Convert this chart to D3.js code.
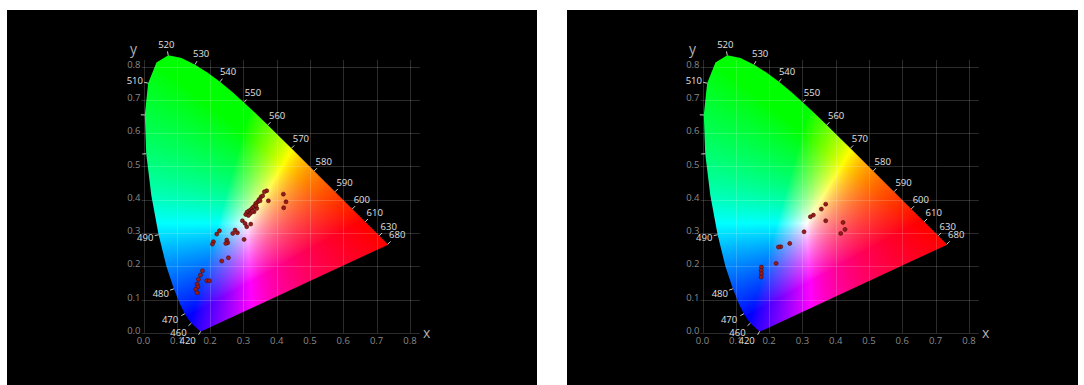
<!DOCTYPE html>
<html><head><meta charset="utf-8">
<script src="https://cdn.jsdelivr.net/npm/d3@7"></script>
<style>html,body{margin:0;padding:0;background:#fff;} svg{display:block;}</style>
</head><body>
<svg id="chart" width="1084" height="385"></svg>
<script>
// CIE 1931 2° spectral locus (standard table, 5 nm steps)
const locusNm = [380,385,390,395,400,405,410,415,420,425,430,435,440,445,450,455,460,465,470,475,480,485,490,495,500,505,510,515,520,525,530,535,540,545,550,555,560,565,570,575,580,585,590,595,600,605,610,615,620,625,630,635,640,645,650,655,660,665,670,675,680,685,690,695,700];
const locusX = [0.1741,0.1740,0.1738,0.1736,0.1733,0.1730,0.1726,0.1721,0.1714,0.1703,0.1689,0.1669,0.1644,0.1611,0.1566,0.1510,0.1440,0.1355,0.1241,0.1096,0.0913,0.0687,0.0454,0.0235,0.0082,0.0039,0.0139,0.0389,0.0743,0.1142,0.1547,0.1929,0.2296,0.2658,0.3016,0.3373,0.3731,0.4087,0.4441,0.4788,0.5125,0.5448,0.5752,0.6029,0.6270,0.6482,0.6658,0.6801,0.6915,0.7006,0.7079,0.7140,0.7190,0.7230,0.7260,0.7283,0.7300,0.7311,0.7320,0.7327,0.7334,0.7340,0.7344,0.7346,0.7347];
const locusY = [0.0050,0.0050,0.0049,0.0049,0.0048,0.0048,0.0048,0.0048,0.0051,0.0058,0.0069,0.0086,0.0109,0.0138,0.0177,0.0227,0.0297,0.0399,0.0578,0.0868,0.1327,0.2007,0.2950,0.4127,0.5384,0.6548,0.7502,0.8120,0.8338,0.8262,0.8059,0.7816,0.7543,0.7243,0.6923,0.6589,0.6245,0.5896,0.5547,0.5202,0.4866,0.4544,0.4242,0.3965,0.3725,0.3514,0.3340,0.3197,0.3083,0.2993,0.2920,0.2859,0.2809,0.2770,0.2740,0.2717,0.2700,0.2689,0.2680,0.2673,0.2666,0.2660,0.2656,0.2654,0.2653];

const labelNm = [420,460,470,480,490,510,520,530,540,550,560,570,580,590,600,610,630,680];
const tickOnlyNm = [500,505];

const axisTicks = [0,0.1,0.2,0.3,0.4,0.5,0.6,0.7,0.8];
const tickLabels = ["0.0","0.1","0.2","0.3","0.4","0.5","0.6","0.7","0.8"];

// measured chromaticity points, left panel
const leftX = [0.370,0.363,0.375,0.420,0.428,0.421,0.353,0.347,0.343,0.337,0.333,0.328,0.323,0.317,0.311,0.307,0.321,0.332,0.340,0.297,0.305,0.322,0.310,0.275,0.282,0.268,0.228,0.220,0.210,0.207,0.250,0.253,0.247,0.302,0.235,0.255,0.177,0.171,0.165,0.161,0.163,0.157,0.161,0.190,0.198,0.315,0.327,0.338,0.350,0.358];
const leftY = [0.427,0.424,0.397,0.417,0.394,0.376,0.409,0.401,0.394,0.389,0.381,0.377,0.371,0.367,0.363,0.356,0.359,0.364,0.374,0.337,0.329,0.327,0.319,0.309,0.301,0.299,0.307,0.297,0.274,0.267,0.279,0.271,0.269,0.281,0.216,0.226,0.187,0.174,0.161,0.147,0.139,0.131,0.121,0.157,0.157,0.353,0.366,0.382,0.397,0.412];
// right panel
const rightX = [0.370,0.357,0.333,0.324,0.370,0.422,0.428,0.415,0.305,0.262,0.235,0.228,0.221,0.177,0.176,0.177,0.176];
const rightY = [0.387,0.372,0.354,0.349,0.337,0.332,0.311,0.299,0.304,0.269,0.259,0.258,0.209,0.198,0.188,0.178,0.168];

const panels = [
  {bx:7,  bw:530, offset:0,   px:leftX,  py:leftY},
  {bx:567,bw:511, offset:559, px:rightX, py:rightY}
];

const svg = d3.select("#chart");
svg.append("rect").attr("width",1084).attr("height",385).attr("fill","#fff");

const x = d3.scaleLinear().domain([0,0.8]).range([143.5,143.5+0.8*333]);
const y = d3.scaleLinear().domain([0,0.8]).range([333,333-0.8*333]);

const locus = locusNm.map((w,i)=>({w, x:locusX[i], y:locusY[i]}));
const locusPath = d3.line().x(d=>x(d.x)).y(d=>y(d.y))(locus) + "Z";

// chromaticity fill rendered to a canvas
function xyToRGB(cx, cy){
  cy = Math.max(cy, 1e-4);
  const X = cx/cy, Y = 1, Z = (1-cx-cy)/cy;
  let r =  3.2406*X - 1.5372*Y - 0.4986*Z;
  let g = -0.9689*X + 1.8758*Y + 0.0415*Z;
  let b =  0.0557*X - 0.2040*Y + 1.0570*Z;
  r = Math.max(r,0); g = Math.max(g,0); b = Math.max(b,0);
  const m = Math.max(r,g,b) || 1;
  r/=m; g/=m; b/=m;
  const gam = v => Math.pow(v, 1/1.25);
  return [gam(r)*255, gam(g)*255, gam(b)*255];
}
const ix0 = Math.floor(x(0))-2, iy0 = Math.floor(y(0.85))-2;
const iw = Math.ceil(x(0.75))-ix0+3, ih = Math.ceil(y(0))-iy0+3;
const cv = document.createElement("canvas");
cv.width = iw; cv.height = ih;
const ctx = cv.getContext("2d");
const img = ctx.createImageData(iw, ih);
for (let j=0;j<ih;j++){
  for (let i=0;i<iw;i++){
    const cx = x.invert(ix0+i+0.5), cy = y.invert(iy0+j+0.5);
    const c = xyToRGB(Math.max(cx,0), Math.max(cy,0.001));
    const k = (j*iw+i)*4;
    img.data[k]=c[0]; img.data[k+1]=c[1]; img.data[k+2]=c[2]; img.data[k+3]=255;
  }
}
ctx.putImageData(img,0,0);
const dataURL = cv.toDataURL();

const defs = svg.append("defs");
defs.append("clipPath").attr("id","locusClip").attr("clipPathUnits","userSpaceOnUse")
  .append("path").attr("d", locusPath);

// outward normal helper
const cxs = x(0.33), cys = y(0.33);
function normalAt(w){
  const i = locusNm.indexOf(w);
  const a = locus[Math.max(0,i-1)], b = locus[Math.min(locus.length-1,i+1)];
  let tx = x(b.x)-x(a.x), ty = y(b.y)-y(a.y);
  const L = Math.hypot(tx,ty) || 1; tx/=L; ty/=L;
  let nx = ty, ny = -tx;
  const p = locus[i];
  if (nx*(x(p.x)-cxs) + ny*(y(p.y)-cys) < 0){ nx=-nx; ny=-ny; }
  return [nx,ny];
}

const font = "'Open Sans', 'DejaVu Sans', sans-serif";

panels.forEach(P => {
  svg.append("rect").attr("x",P.bx).attr("y",10).attr("width",P.bw).attr("height",375).attr("fill","#000");
  const g = svg.append("g").attr("transform",`translate(${P.offset},0)`);

  g.append("image").attr("href", dataURL)
    .attr("x",ix0).attr("y",iy0).attr("width",iw).attr("height",ih)
    .attr("clip-path","url(#locusClip)");

  // grid
  const grid = g.append("g").attr("stroke","#fff").attr("stroke-opacity",0.17).attr("stroke-width",1);
  grid.selectAll("line.v").data(axisTicks).join("line")
    .attr("x1",d=>Math.round(x(d))+0.5).attr("x2",d=>Math.round(x(d))+0.5)
    .attr("y1",y(0)).attr("y2",y(0.82));
  grid.selectAll("line.h").data(axisTicks).join("line")
    .attr("y1",d=>Math.round(y(d))+0.5).attr("y2",d=>Math.round(y(d))+0.5)
    .attr("x1",x(0)-2).attr("x2",x(0.83));

  // tick labels
  g.selectAll("text.xt").data(axisTicks).join("text")
    .attr("x",d=>x(d)).attr("y",y(0)+11)
    .attr("text-anchor","middle").attr("fill","#8a8a8a")
    .attr("font-family",font).attr("font-size",9.5).text((d,i)=>tickLabels[i]);
  g.selectAll("text.yt").data(axisTicks).join("text")
    .attr("x",x(0)-3).attr("y",d=>y(d)+1)
    .attr("text-anchor","end").attr("fill","#8a8a8a")
    .attr("font-family",font).attr("font-size",9.5).text((d,i)=>tickLabels[i]);

  // axis titles
  g.append("text").attr("x",x(0.85)).attr("y",y(0)+5).attr("text-anchor","middle")
    .attr("fill","#b0b0b0").attr("font-family",font).attr("font-size",14).text("x");
  g.append("text").attr("x",x(0)-10).attr("y",y(0.84)+1).attr("text-anchor","middle")
    .attr("fill","#b0b0b0").attr("font-family",font).attr("font-size",14).text("y");

  // wavelength ticks and labels
  const tk = g.append("g").attr("stroke","#cfcfcf").attr("stroke-width",1);
  labelNm.concat(tickOnlyNm).forEach(w => {
    const i = locusNm.indexOf(w), p = locus[i];
    const [nx,ny] = normalAt(w);
    const px = x(p.x), py = y(p.y);
    tk.append("line").attr("x1",px).attr("y1",py).attr("x2",px+nx*4).attr("y2",py+ny*4);
  });
  labelNm.forEach(w => {
    const i = locusNm.indexOf(w), p = locus[i];
    let [nx,ny] = normalAt(w);
    if (w <= 470) { const a = Math.atan2(ny,nx) + (w===420 ? 0.45 : 0.12); nx = Math.cos(a); ny = Math.sin(a); }
    const d = (w <= 470 ? 7 : 5) + Math.abs(nx)*8 + Math.abs(ny)*4;
    g.append("text").attr("x",x(p.x)+nx*d).attr("y",y(p.y)+ny*d)
      .attr("dy","0.35em").attr("text-anchor","middle")
      .attr("fill","#e0e0e0").attr("font-family",font).attr("font-size",9.5).text(w);
  });

  // data points
  g.selectAll("circle.pt").data(P.px.map((v,i)=>[v,P.py[i]])).join("circle")
    .attr("cx",d=>x(d[0])).attr("cy",d=>y(d[1])).attr("r",2)
    .attr("fill","#9b1a1a").attr("stroke","#4a0808").attr("stroke-width",0.6);
});
</script>
</body></html>
